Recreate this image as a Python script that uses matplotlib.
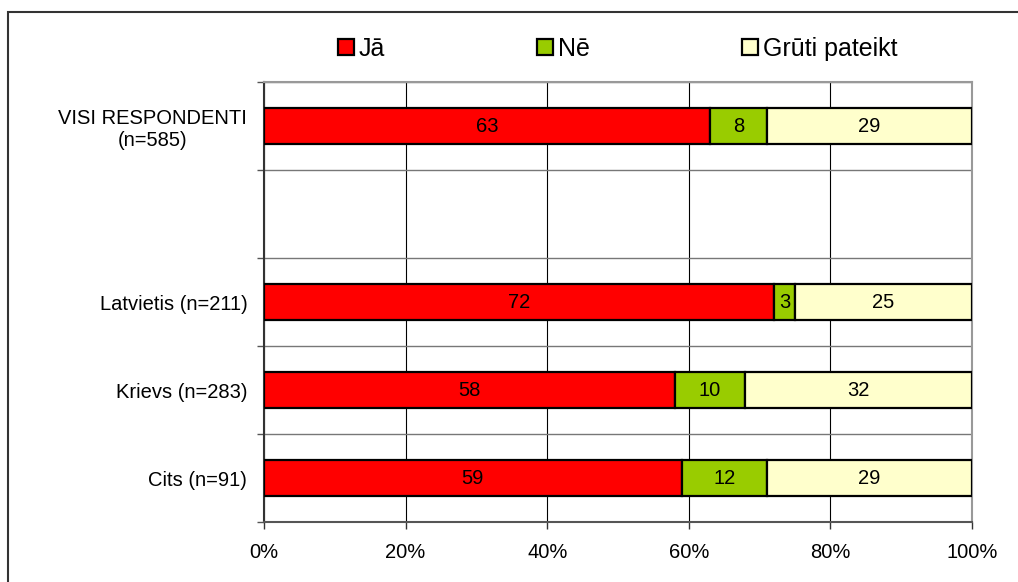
import matplotlib.pyplot as plt
from matplotlib.patches import Rectangle, Patch

plt.rcParams["font.family"] = ["Liberation Sans", "DejaVu Sans"]

# data (percent)
groups = ["VISI RESPONDENTI\n(n=585)", "", "Latvietis (n=211)", "Krievs (n=283)", "Cits (n=91)"]
ja = [63, None, 72, 58, 59]
ne = [8, None, 3, 10, 12]
gruti = [29, None, 25, 32, 29]

series_names = ["Jā", "Nē", "Grūti pateikt"]
colors = ["#FF0000", "#99CC00", "#FFFFCC"]

fig = plt.figure(figsize=(10.18, 5.82), dpi=100)
ax = fig.add_axes([264 / 1018, 1 - 522 / 582, 708 / 1018, 440 / 582])

# outer frame (cropped on right and bottom)
fig.patches.append(
    Rectangle((8 / 1018, -0.05), 1.1, 1 - 12 / 582 + 0.05,
              transform=fig.transFigure, fill=False,
              edgecolor="#333333", linewidth=1.5)
)

ypos = [i for i, v in enumerate(ja) if v is not None]
left = [0] * len(ypos)
for name, vals, c in zip(series_names, [ja, ne, gruti], colors):
    w = [vals[i] for i in ypos]
    bars = ax.barh(ypos, w, left=left, height=0.41, color=c,
                   edgecolor="black", linewidth=1.6, label=name, zorder=3)
    for b, v in zip(bars, w):
        ax.text(b.get_x() + b.get_width() / 2, b.get_y() + b.get_height() / 2,
                str(v), ha="center", va="center", fontsize=14.5, zorder=4)
    left = [l + v for l, v in zip(left, w)]

ax.set_xlim(0, 100)
ax.set_ylim(len(groups) - 0.5, -0.5)

ax.set_xticks(range(0, 101, 20))
ax.set_xticklabels([f"{x}%" for x in range(0, 101, 20)], fontsize=14.5)

# category boundaries as major ticks, labels on minor ticks
ax.set_yticks([i - 0.5 for i in range(len(groups) + 1)])
ax.set_yticklabels([])
ax.set_yticks(range(len(groups)), minor=True)
ax.set_yticklabels(groups, minor=True, fontsize=14.5, ha="right", multialignment="center")
ax.tick_params(axis="y", which="minor", length=0, pad=12)
ax.tick_params(axis="y", which="major", length=5, width=1, color="#555555")
ax.tick_params(axis="x", length=5, width=1, color="#333333", pad=10)

ax.grid(axis="x", color="black", linewidth=0.8, zorder=0)
ax.grid(axis="y", which="major", color="#777777", linewidth=1.0, zorder=0)

ax.spines["left"].set_color("#333333")
ax.spines["left"].set_linewidth(1.5)
ax.spines["bottom"].set_color("#555555")
ax.spines["bottom"].set_linewidth(1.5)
for s in ["top", "right"]:
    ax.spines[s].set_color("#999999")
    ax.spines[s].set_linewidth(1.5)

handles = [Patch(facecolor=c, edgecolor="black", linewidth=1.6) for c in colors]
fig.legend(handles, series_names, loc="center left",
           bbox_to_anchor=(338 / 1018, 1 - 49 / 582), ncol=3, frameon=False,
           fontsize=18, handlelength=0.62, handleheight=0.62,
           handletextpad=0.2, columnspacing=6.1, borderpad=0, borderaxespad=0)

fig.savefig("out.png", dpi=100)
